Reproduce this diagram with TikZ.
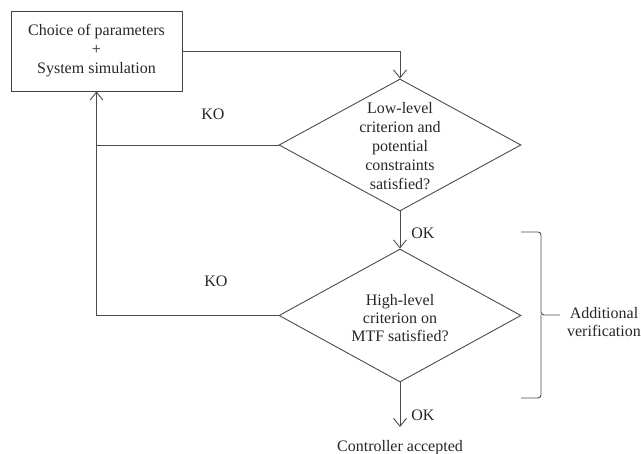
\documentclass[tikz,border=0pt]{standalone}
\usepackage{fontspec}
\setmainfont{Liberation Serif}
\usetikzlibrary{shapes.geometric,arrows.meta}
\begin{document}
\begin{tikzpicture}[x=1pt,y=-1pt,
  every node/.style={font=\fontsize{16}{19}\selectfont, text=black!85},
  ln/.style={draw=black!70, line width=0.9pt},
  arr/.style={ln, -{Straight Barb[length=8pt,width=13pt,line width=0.9pt]}},
  procbox/.style={draw=black!75, line width=0.9pt, rectangle, minimum width=171pt, minimum height=80pt, inner sep=0pt, align=center},
  decision/.style={draw=black!70, line width=0.9pt, diamond, minimum width=242pt, minimum height=132pt, inner sep=0pt},
  txt/.style={align=center, inner sep=0pt}
]
\useasboundingbox (0,0) rectangle (641,454);

\node[procbox] (box) at (96.5,51) {Choice of parameters\\+\\System simulation};
\node[decision] (d1) at (400,145) {};
\node[txt, font=\fontsize{16}{18.8}\selectfont] (t1) at (400,146) {Low-level\\criterion and\\potential\\constraints\\satisfied?};
\node[decision, minimum height=133pt] (d2) at (400,315.5) {};
\node[txt, font=\fontsize{16}{18.3}\selectfont] (t2) at (400,318) {High-level\\criterion on\\MTF satisfied?};

\node[txt] (ko1) at (213,114) {KO};
\node[txt] (ko2) at (216,281) {KO};
\node[txt] (ok1) at (423,233) {OK};
\node[txt] (ok2) at (423,415) {OK};
\node[txt] (acc) at (400,448) {Controller accepted};
\node[txt, font=\fontsize{16}{18}\selectfont] (add) at (604,322) {Additional\\verification};

\coordinate (end) at (400,427);
\coordinate (bt) at (521,232);
\coordinate (bb) at (521,398);
\coordinate (bm) at (560,315);

\draw[arr] (box.east) -| (d1.north);
\draw[ln] (d1.west) -- (d1.west -| box.south);
\draw[arr] (d2.west) -- (d2.west -| box.south) -- (box.south);
\draw[arr] (d1.south) -- (d2.north);
\draw[arr] (d2.south) -- (end);

\draw[ln, rounded corners=3pt] (bt) -- (541,232) -- (541,315) -- (bm);
\draw[ln, rounded corners=3pt] (bb) -- (541,398) -- (541,315);
\end{tikzpicture}
\end{document}
